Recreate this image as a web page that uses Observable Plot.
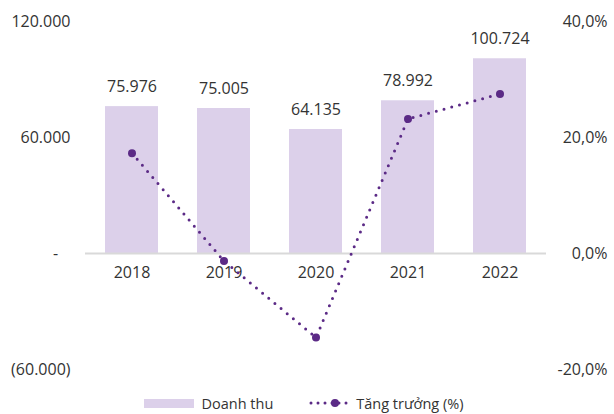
<!DOCTYPE html>
<html><head><meta charset="utf-8">
<script src="https://cdn.jsdelivr.net/npm/d3@7"></script>
<script src="https://cdn.jsdelivr.net/npm/@observablehq/plot@0.6"></script>
<style>
body{margin:0;background:#fff;font-family:"Open Sans",sans-serif;color:#333;}
#wrap{width:614px;}
#legend{display:flex;align-items:center;justify-content:center;height:22px;font-size:14.5px;color:#333;padding-right:6px;}
.sw{display:inline-block;width:50px;height:9px;background:#dcd0ea;margin-right:7px;}
.item{display:flex;align-items:center;}
</style></head><body><div id="wrap"><div id="chart"></div><div id="legend"></div></div>
<script>
const years = ["2018","2019","2020","2021","2022"];
const revenue = [75976, 75005, 64135, 78992, 100724];
const growth = [17.3, -1.3, -14.5, 23.2, 27.5];
const leftTicks = [120000, 60000, 0, -60000];
const rightTicks = [40, 20, 0, -20];
const seriesNames = ["Doanh thu", "Tăng trưởng (%)"];
const RATIO = 3000; // 1% growth shown at 3000 revenue units (shared axis)

const BAR = "#dcd0ea", LINE = "#5b2a86", TXT = "#333333";
const data = years.map((y,i)=>({year:y, revenue:revenue[i], growth:growth[i]}));
const fmt = v => d3.format(",")(v).replace(/,/g,".");
const leftFmt = d => d===0 ? "-\u00a0\u00a0\u00a0" : d<0 ? "("+fmt(-d)+")" : fmt(d);
const rightFmt = d => (d/RATIO).toFixed(1).replace(".",",")+"%";

const W=614, H=392;
const chart = Plot.plot({
  width:W, height:H, marginTop:21, marginBottom:H-369, marginLeft:85, marginRight:68,
  x:{domain:years, paddingInner:0.42, paddingOuter:0.21, axis:null},
  y:{domain:[-60000,120000], axis:null},
  style:{fontFamily:'"Open Sans",sans-serif', fontSize:"16px", color:TXT, background:"#fff"},
  marks:[
    Plot.barY(data,{x:"year", y:"revenue", fill:BAR}),
    Plot.ruleY([0],{stroke:"#d9d9d9", strokeWidth:2}),
    Plot.text(data,{x:"year", y:"revenue", text:d=>fmt(d.revenue), dy:-20, fill:TXT}),
    Plot.text(data,{x:"year", y:()=>0, text:"year", dy:19, fill:TXT}),
    Plot.axisY({ticks:leftTicks, tickFormat:leftFmt, anchor:"left", label:null, tickSize:0, tickPadding:15, textAnchor:"end", fill:TXT}),
    Plot.axisY({ticks:rightTicks.map(d=>d*RATIO), tickFormat:rightFmt, anchor:"right", label:null, tickSize:0, tickPadding:61, textAnchor:"end", fill:TXT}),
    Plot.line(data,{x:"year", y:d=>d.growth*RATIO, stroke:LINE, strokeWidth:3, strokeDasharray:"0 8", strokeLinecap:"round"}),
    Plot.dot(data,{x:"year", y:d=>d.growth*RATIO, r:4, fill:LINE, stroke:"none"})
  ]
});
document.getElementById("chart").appendChild(chart);

const lg = document.getElementById("legend");
lg.innerHTML = `<span class="item"><span class="sw"></span><span>${seriesNames[0]}</span></span>
<span class="item" style="margin-left:36px"><svg width="42" height="12" style="margin-right:5px"><line x1="2" y1="6" x2="38" y2="6" stroke="${LINE}" stroke-width="3" stroke-dasharray="0 7" stroke-linecap="round"/><circle cx="26" cy="6" r="4" fill="${LINE}"/></svg><span>${seriesNames[1]}</span></span>`;
</script></body></html>
